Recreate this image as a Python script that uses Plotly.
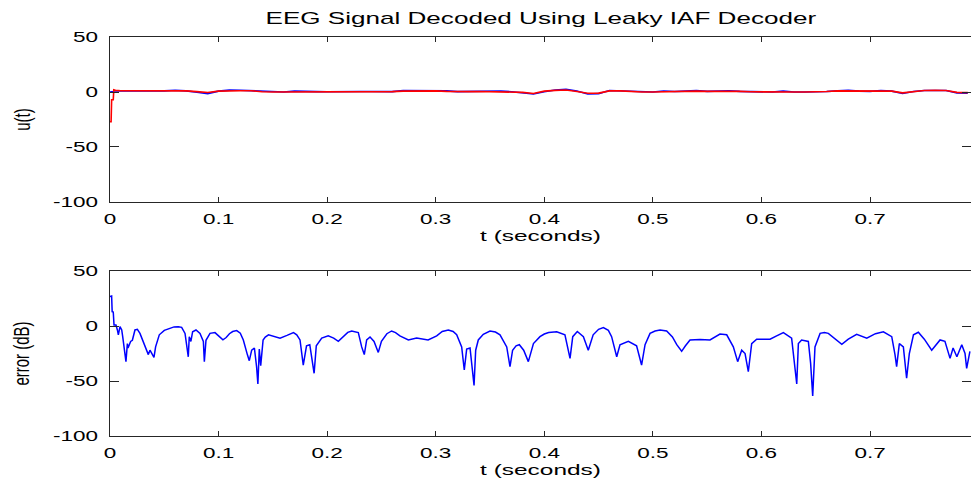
import plotly.graph_objects as go

# ---------------- data ----------------
title_text = "EEG Signal Decoded Using Leaky IAF Decoder"

u_t = [0.0, 0.001, 0.0015, 0.003, 0.0035, 0.005,
       0.01, 0.02, 0.03, 0.04, 0.05, 0.06, 0.07, 0.08, 0.09, 0.10,
       0.11, 0.12, 0.13, 0.14, 0.15, 0.16, 0.17, 0.18, 0.19, 0.20,
       0.21, 0.22, 0.23, 0.24, 0.25, 0.26, 0.27, 0.28, 0.29, 0.30,
       0.31, 0.32, 0.33, 0.34, 0.35, 0.36, 0.37, 0.38, 0.39, 0.40,
       0.41, 0.42, 0.43, 0.44, 0.45, 0.46, 0.47, 0.48, 0.49, 0.50,
       0.51, 0.52, 0.53, 0.54, 0.55, 0.56, 0.57, 0.58, 0.59, 0.60,
       0.61, 0.62, 0.63, 0.64, 0.65, 0.66, 0.67, 0.68, 0.69, 0.70,
       0.71, 0.72, 0.73, 0.74, 0.75, 0.76, 0.77, 0.78, 0.79]

u_blue = [0.0, 0.0, 0.0, 0.5, 1.0, 1.0,
          0.9, 1.5, 1.0, 1.0, 1.0, 1.6, 1.0, -0.3, -1.5, 0.8,
          1.7, 1.6, 1.2, 0.2, 0.0, 0.0, 0.8, 0.3, 0.3, 0.2,
          0.3, 1.0, 0.5, 0.4, 0.3, 0.3, 1.4, 1.4, 1.5, 1.0,
          1.0, 0.3, 0.3, 0.5, 0.3, 0.9, 0.2, -0.8, -1.8, 0.3,
          1.8, 2.4, 0.9, -1.8, -1.5, 1.4, 1.0, 0.3, 0.0, 0.0,
          0.9, 0.5, 0.8, 1.3, 0.6, 0.8, 1.2, 0.6, 0.2, 0.0,
          0.0, 0.8, 0.0, 0.0, 0.1, 0.5, 1.0, 1.5, 0.8, 0.6,
          1.4, 0.8, -1.3, 0.5, 1.4, 1.5, 1.3, -0.8, -1.0]

u_red = [-27.0, -27.0, -7.0, -7.0, 2.0, 1.5,
         1.2, 1.2, 1.0, 1.2, 1.0, 1.2, 1.0, 0.3, -0.5, 0.8,
         1.2, 1.2, 1.2, 0.2, 0.0, 0.0, 0.2, 0.3, 0.3, 0.2,
         0.3, 0.4, 0.5, 0.4, 0.3, 0.3, 0.8, 1.0, 1.0, 1.0,
         0.6, 0.3, 0.3, 0.5, 0.3, 0.4, 0.2, -0.3, -1.3, 0.8,
         1.5, 1.8, 0.5, -1.2, -1.0, 1.0, 1.0, 0.3, 0.0, 0.0,
         0.3, 0.5, 0.8, 0.8, 0.6, 0.8, 0.7, 0.6, 0.2, 0.0,
         0.0, 0.2, 0.0, 0.0, 0.1, 0.5, 1.0, 1.0, 0.8, 0.6,
         0.9, 0.8, -0.8, 0.5, 1.4, 1.5, 1.3, -0.3, -0.6]

err_t = [0.0000, 0.0015, 0.0020, 0.0030, 0.0037, 0.0055, 0.0068, 0.0077, 0.0092, 0.0108,
         0.0117, 0.0132, 0.0147, 0.0160, 0.0166, 0.0190, 0.0206, 0.0230, 0.0252, 0.0276,
         0.0307, 0.0338, 0.0353, 0.0368, 0.0384, 0.0405, 0.0420, 0.0436, 0.0454, 0.0500,
         0.0553, 0.0590, 0.0629, 0.0660, 0.0691, 0.0712, 0.0721, 0.0730, 0.0745, 0.0761,
         0.0792, 0.0829, 0.0860, 0.0869, 0.0884, 0.0921, 0.0967, 0.1000, 0.1040, 0.1070,
         0.1100, 0.1130, 0.1167, 0.1200, 0.1228, 0.1265, 0.1283, 0.1305, 0.1330, 0.1350,
         0.1362, 0.1375, 0.1388, 0.1410, 0.1430, 0.1460, 0.1520, 0.1566, 0.1630, 0.1690,
         0.1720, 0.1750, 0.1780, 0.1810, 0.1840, 0.1880, 0.1900, 0.1950, 0.2010, 0.2060,
         0.2103, 0.2160, 0.2190, 0.2226, 0.2287, 0.2318, 0.2342, 0.2364, 0.2395, 0.2432,
         0.2471, 0.2500, 0.2550, 0.2594, 0.2630, 0.2670, 0.2748, 0.2824, 0.2930, 0.3009,
         0.3060, 0.3116, 0.3160, 0.3193, 0.3239, 0.3263, 0.3285, 0.3316, 0.3337, 0.3353,
         0.3368, 0.3392, 0.3438, 0.3500, 0.3550, 0.3592, 0.3654, 0.3684, 0.3708, 0.3740,
         0.3770, 0.3810, 0.3853, 0.3900, 0.3960, 0.4000, 0.4040, 0.4114, 0.4190, 0.4221,
         0.4237, 0.4262, 0.4304, 0.4360, 0.4405, 0.4450, 0.4500, 0.4544, 0.4590, 0.4620,
         0.4667, 0.4697, 0.4774, 0.4850, 0.4896, 0.4928, 0.4974, 0.5020, 0.5066, 0.5127,
         0.5180, 0.5220, 0.5265, 0.5300, 0.5342, 0.5434, 0.5526, 0.5618, 0.5680, 0.5741,
         0.5781, 0.5818, 0.5849, 0.5879, 0.5910, 0.5956, 0.6079, 0.6140, 0.6202, 0.6278,
         0.6309, 0.6325, 0.6340, 0.6370, 0.6432, 0.6453, 0.6472, 0.6493, 0.6540, 0.6580,
         0.6616, 0.6680, 0.6740, 0.6800, 0.6877, 0.6970, 0.7050, 0.7123, 0.7200, 0.7230,
         0.7245, 0.7270, 0.7307, 0.7337, 0.7362, 0.7400, 0.7445, 0.7500, 0.7568, 0.7645,
         0.7690, 0.7737, 0.7765, 0.7800, 0.7845, 0.7875, 0.7890, 0.7920]

err_db = [26.7, 27.3, 13.0, 12.7, 0.9, 0.9, -3.6, -8.0, -0.6, -3.6,
          -9.7, -20.0, -32.4, -16.0, -20.0, -14.0, -13.0, -3.6, -3.0, -6.7,
          -14.0, -23.0, -26.0, -22.0, -25.0, -28.5, -19.0, -14.0, -8.0, -4.0,
          -2.1, -0.8, -0.6, -1.2, -6.7, -26.0, -28.0, -9.7, -14.0, -5.2,
          -3.6, -6.7, -14.0, -32.4, -13.0, -6.7, -6.0, -9.0, -12.5, -10.5,
          -7.0, -5.0, -4.2, -6.5, -12.7, -26.0, -31.5, -22.0, -20.0, -37.0,
          -52.7, -21.0, -36.0, -12.7, -10.0, -8.0, -9.5, -11.0, -8.5, -6.0,
          -8.0, -12.7, -35.5, -18.0, -17.0, -43.0, -18.0, -11.0, -9.0, -11.0,
          -14.0, -8.0, -5.8, -4.5, -6.0, -19.0, -26.0, -12.7, -10.0, -14.0,
          -24.0, -14.0, -7.0, -4.5, -6.0, -9.0, -12.7, -11.0, -12.7, -9.0,
          -5.0, -3.6, -5.0, -8.0, -19.0, -40.0, -21.0, -20.0, -38.5, -54.0,
          -22.0, -12.7, -7.5, -4.5, -5.5, -8.0, -19.0, -37.0, -22.0, -18.0,
          -17.0, -22.0, -32.4, -16.0, -9.7, -7.3, -6.0, -5.2, -8.0, -22.0,
          -29.4, -9.7, -5.0, -9.7, -22.0, -8.0, -3.0, -1.5, -4.0, -9.7,
          -28.0, -17.0, -14.0, -18.0, -35.5, -17.0, -6.7, -4.5, -3.6, -4.5,
          -10.0, -17.0, -23.0, -18.0, -12.7, -12.2, -12.7, -7.3, -8.0, -19.0,
          -32.4, -22.0, -25.0, -41.5, -16.0, -12.0, -12.0, -9.0, -6.0, -11.0,
          -36.0, -52.7, -16.0, -12.7, -14.0, -34.0, -63.6, -19.0, -6.7, -6.0,
          -6.7, -12.0, -16.7, -12.0, -7.6, -11.0, -7.0, -5.2, -9.7, -26.0,
          -37.0, -16.0, -19.0, -47.5, -25.0, -8.0, -5.7, -12.0, -22.0, -12.7,
          -14.0, -29.4, -20.0, -28.0, -17.0, -25.0, -38.5, -23.0]

x_tick_vals = [0, 0.1, 0.2, 0.3, 0.4, 0.5, 0.6, 0.7]
x_tick_text = ["0", "0.1", "0.2", "0.3", "0.4", "0.5", "0.6", "0.7"]
y_tick_vals = [-100, -50, 0, 50]
y_tick_text = ["-100", "-50", "0", "50"]
x_title = "t (seconds)"
y_title_top = "u(t)"
y_title_bottom = "error (dB)"

# ---------------- figure ----------------
FONT = "Liberation Sans, Arial, Helvetica, sans-serif"
AXC = "#262626"

fig = go.Figure()
fig.add_trace(go.Scatter(x=u_t, y=u_blue, mode="lines", line=dict(color="#0000FF", width=1.6),
                         xaxis="x", yaxis="y", showlegend=False, name="u(t)"))
fig.add_trace(go.Scatter(x=u_t, y=u_red, mode="lines", line=dict(color="#FF0000", width=1.6),
                         xaxis="x", yaxis="y", showlegend=False, name="decoded u(t)"))
fig.add_trace(go.Scatter(x=err_t, y=err_db, mode="lines", line=dict(color="#0000FF", width=1.5),
                         xaxis="x2", yaxis="y2", showlegend=False, name="error"))

xcommon = dict(range=[0, 0.793], tickmode="array", tickvals=x_tick_vals, ticktext=x_tick_text,
               showline=True, linecolor=AXC, linewidth=1, mirror="ticks", ticks="inside",
               ticklen=5, tickwidth=1, tickcolor=AXC, showgrid=False, zeroline=False,
               tickfont=dict(family=FONT, size=15, color="#000000"), ticklabelstandoff=3)
ycommon = dict(range=[-100, 50], tickmode="array", tickvals=y_tick_vals, ticktext=y_tick_text,
               showline=True, linecolor=AXC, linewidth=1, mirror="ticks", ticks="inside",
               ticklen=9, tickwidth=1, tickcolor=AXC, showgrid=False, zeroline=False,
               tickfont=dict(family=FONT, size=15, color="#000000"), ticklabelstandoff=8)

fig.update_layout(
    width=971, height=480,
    margin=dict(l=110, r=0, t=37, b=44),
    paper_bgcolor="white", plot_bgcolor="white",
    title=dict(text=title_text, x=0.557, xref="container", xanchor="center",
               y=1 - 18 / 480, yref="container", yanchor="middle",
               font=dict(family=FONT, size=16, color="#000000")),
    xaxis=dict(domain=[0, 1], anchor="y",
               title=dict(text=x_title, standoff=2, font=dict(family=FONT, size=15, color="#000000")),
               **xcommon),
    yaxis=dict(domain=[0.5865, 1], anchor="x",
               title=dict(text=y_title_top, standoff=33, font=dict(family=FONT, size=15, color="#000000")),
               **ycommon),
    xaxis2=dict(domain=[0, 1], anchor="y2",
                title=dict(text=x_title, standoff=2, font=dict(family=FONT, size=15, color="#000000")),
                **xcommon),
    yaxis2=dict(domain=[0, 0.4135], anchor="x2",
                title=dict(text=y_title_bottom, standoff=34, font=dict(family=FONT, size=15, color="#000000")),
                **ycommon),
)

post = """
var gd = document.getElementById('{plot_id}');
function stretch(sel, s, rotated) {
  gd.querySelectorAll(sel).forEach(function (t) {
    var x = parseFloat(t.getAttribute('x')) || 0;
    var y = parseFloat(t.getAttribute('y')) || 0;
    var tr = t.getAttribute('transform') || '';
    if (rotated) {
      t.setAttribute('transform', 'translate(' + x + ',' + y + ') scale(' + s + ',1) translate(' + (-x) + ',' + (-y) + ') ' + tr);
    } else {
      t.setAttribute('transform', tr + ' translate(' + x + ',0) scale(' + s + ',1) translate(' + (-x) + ',0)');
    }
  });
}
stretch('.xtick text, .x2tick text, .ytick text, .y2tick text', 1.5, false);
stretch('.gtitle, .xtitle, .x2title', 1.63, false);
stretch('.ytitle, .y2title', 1.5, true);
"""

fig.write_html("out.html", post_script=post)
